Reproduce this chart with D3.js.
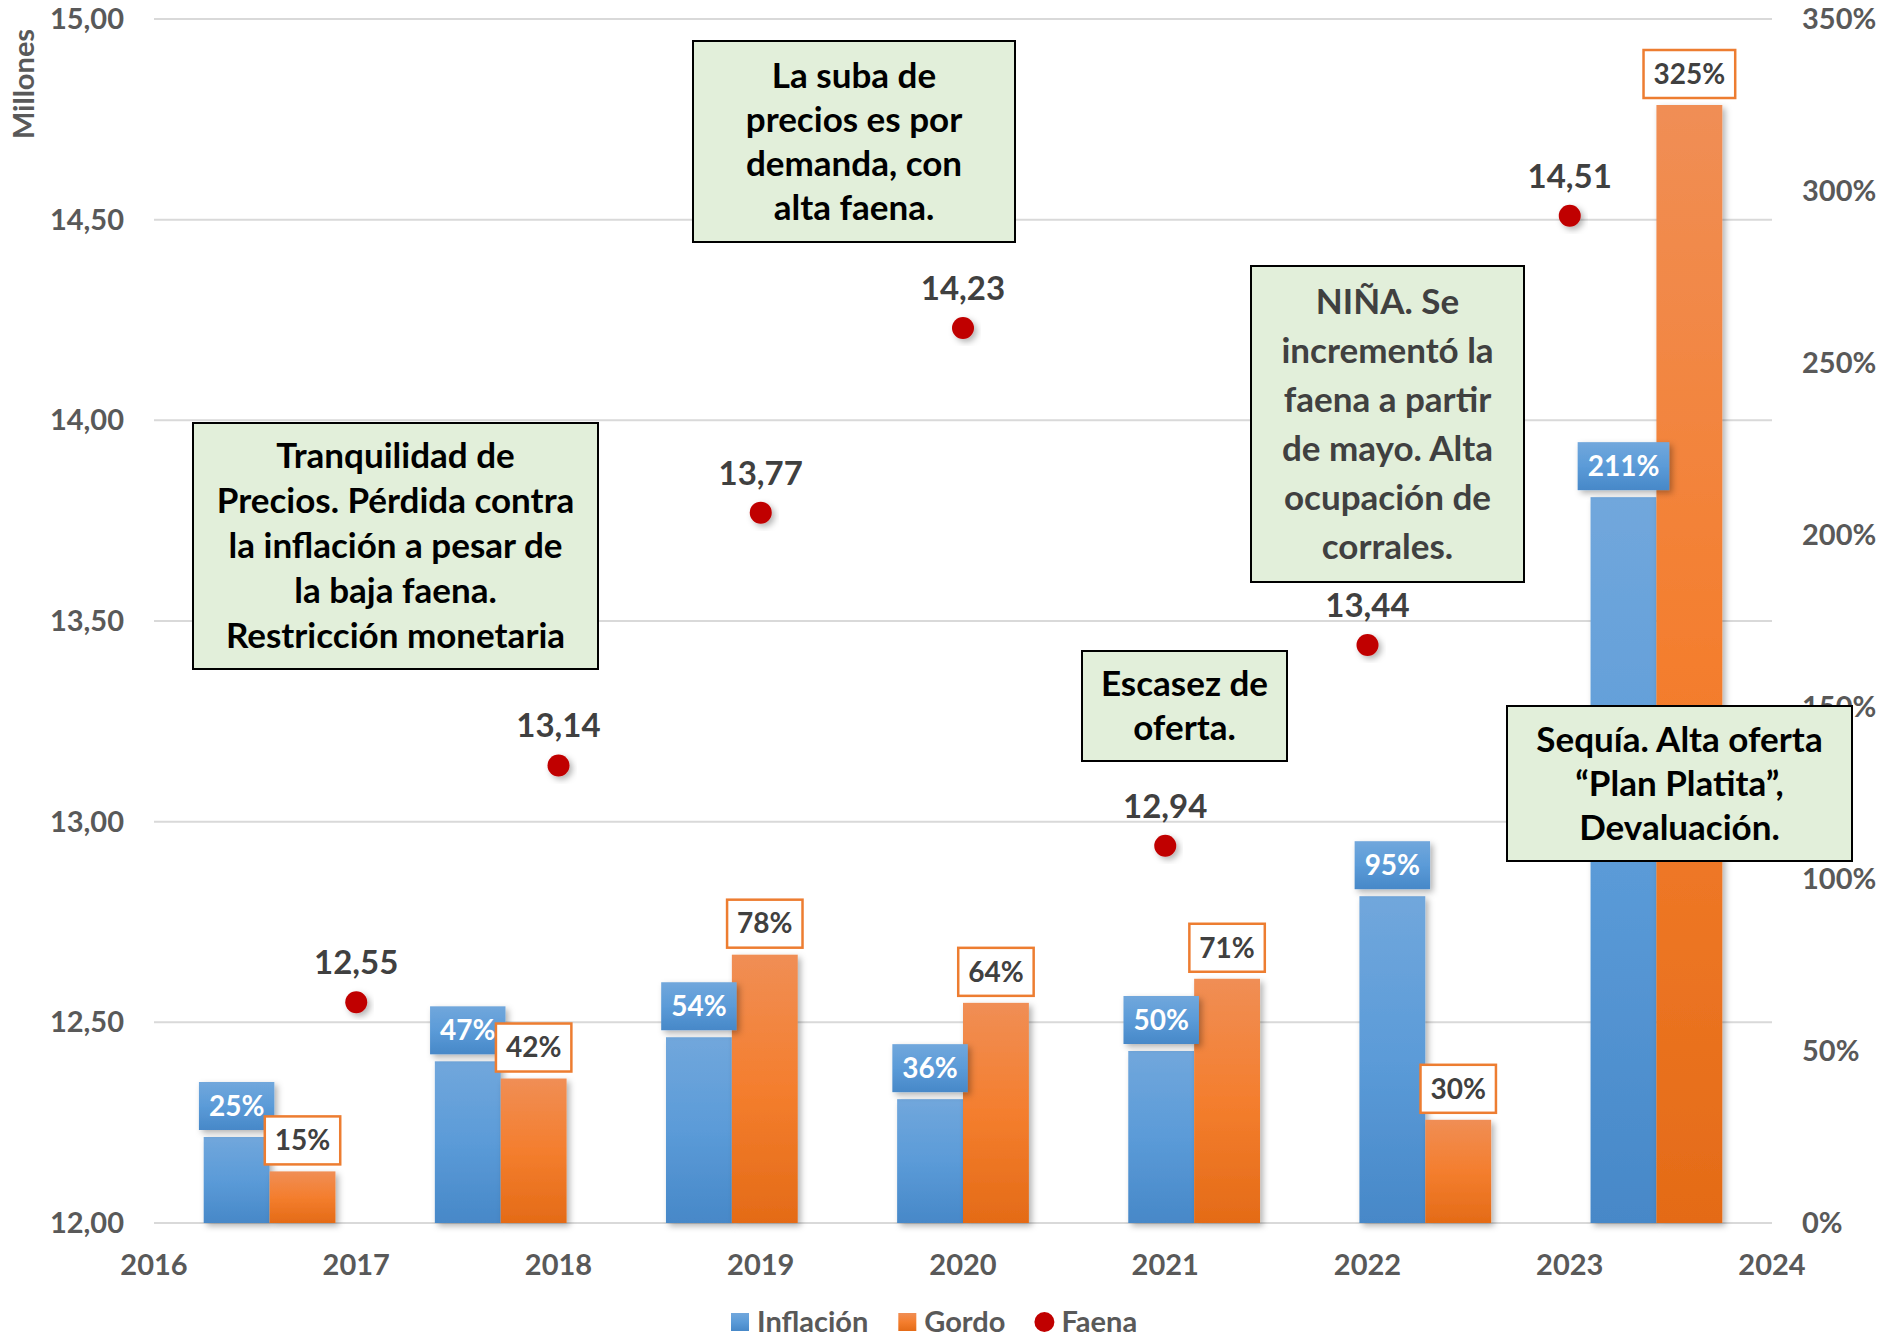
<!DOCTYPE html>
<html>
<head>
<meta charset="utf-8">
<script src="https://cdn.jsdelivr.net/npm/d3@7"></script>
<style>
  body { margin: 0; background: #fff; }
  svg text { font-family: Lato, "Open Sans", sans-serif; font-weight: 700; }
</style>
</head>
<body>
<div id="chart"></div>
<script>
// Data
var barYears = ["2017", "2018", "2019", "2020", "2021", "2022", "2023"];
var inflacion = [25, 47, 54, 36, 50, 95, 211];   // % (right axis)
var gordo = [15, 42, 78, 64, 71, 30, 325];       // % (right axis)
var faenaYears = [2017, 2018, 2019, 2020, 2021, 2022, 2023];
var faena = [12.55, 13.14, 13.77, 14.23, 12.94, 13.44, 14.51]; // millones (left axis)
var leftTicks = [12, 12.5, 13, 13.5, 14, 14.5, 15];
var rightTicks = [0, 50, 100, 150, 200, 250, 300, 350];
var xTicks = [2016, 2017, 2018, 2019, 2020, 2021, 2022, 2023, 2024];
var legendNames = ["Inflación", "Gordo", "Faena"];

// annotation boxes: lines of text
var notes = [
  { lines: ["Tranquilidad de", "Precios. Pérdida contra", "la inflación a pesar de", "la baja faena.", "Restricción monetaria"],
    box: [193, 423, 405, 246], lh: 45, color: "#000" },
  { lines: ["La suba de", "precios es por", "demanda, con", "alta faena."],
    box: [693, 41, 322, 201], lh: 44, color: "#000" },
  { lines: ["NIÑA. Se", "incrementó la", "faena a partir", "de mayo. Alta", "ocupación de", "corrales."],
    box: [1251, 266, 273, 316], lh: 49, color: "#404040" },
  { lines: ["Escasez de", "oferta."],
    box: [1082, 651, 205, 110], lh: 44, color: "#000" },
  { lines: ["Sequía. Alta oferta", "“Plan Platita”,", "Devaluación."],
    box: [1507, 706, 345, 155], lh: 44, color: "#000" }
];

var width = 1880, height = 1340;
var plotLeft = 154, plotRight = 1772, plotTop = 19, plotBottom = 1223;

var svg = d3.select("#chart").append("svg")
  .attr("width", width)
  .attr("height", height);

var defs = svg.append("defs");

function grad(id, stops) {
  var g = defs.append("linearGradient").attr("id", id)
    .attr("x1", 0).attr("y1", 0).attr("x2", 0).attr("y2", 1);
  stops.forEach(function(s) {
    g.append("stop").attr("offset", s[0]).attr("stop-color", s[1]);
  });
}
grad("gBlue", [[0, "#71A7DC"], [0.5, "#5B9BD8"], [1, "#4788C8"]]);
grad("gOrange", [[0, "#F08E55"], [0.5, "#F47E2E"], [1, "#E46B17"]]);

var shadow = defs.append("filter").attr("id", "shadow")
  .attr("x", "-30%").attr("y", "-30%").attr("width", "160%").attr("height", "160%");
shadow.append("feDropShadow")
  .attr("dx", 3).attr("dy", 3).attr("stdDeviation", 3)
  .attr("flood-color", "#000").attr("flood-opacity", 0.3);

// Scales
var yLeft = d3.scaleLinear().domain([12, 15]).range([plotBottom, plotTop]);
var yRight = d3.scaleLinear().domain([0, 350]).range([plotBottom, plotTop]);
var xYear = d3.scaleLinear().domain([2016, 2024]).range([plotLeft, plotRight]);
var xBand = d3.scaleBand().domain(barYears).range([plotLeft, plotRight])
  .paddingInner(0.43).paddingOuter(0.215);
var xSub = d3.scaleBand().domain(["inf", "gor"]).range([0, xBand.bandwidth()]);

// Gridlines (left axis)
svg.append("g").selectAll("line")
  .data(leftTicks)
  .enter().append("line")
  .attr("x1", plotLeft).attr("x2", plotRight)
  .attr("y1", function(d) { return yLeft(d); })
  .attr("y2", function(d) { return yLeft(d); })
  .attr("stroke", "#D9D9D9").attr("stroke-width", 2);

// Axis labels
var axisColor = "#595959";
svg.append("g").selectAll("text")
  .data(leftTicks)
  .enter().append("text")
  .attr("x", 124).attr("y", function(d) { return yLeft(d); })
  .attr("dy", "0.35em")
  .attr("text-anchor", "end")
  .attr("fill", axisColor).attr("font-size", 29)
  .text(function(d) { return d3.format(".2f")(d).replace(".", ","); });

svg.append("g").selectAll("text")
  .data(rightTicks)
  .enter().append("text")
  .attr("x", 1802).attr("y", function(d) { return yRight(d); })
  .attr("dy", "0.35em")
  .attr("fill", axisColor).attr("font-size", 29)
  .text(function(d) { return d + "%"; });

svg.append("g").selectAll("text")
  .data(xTicks)
  .enter().append("text")
  .attr("x", function(d) { return xYear(d); }).attr("y", 1275)
  .attr("text-anchor", "middle")
  .attr("fill", axisColor).attr("font-size", 29)
  .text(function(d) { return d; });

svg.append("text")
  .attr("transform", "translate(34,84) rotate(-90)")
  .attr("text-anchor", "middle")
  .attr("fill", axisColor).attr("font-size", 29)
  .text("Millones");

// Bars
var groups = svg.append("g").selectAll("g")
  .data(barYears)
  .enter().append("g")
  .attr("transform", function(d) { return "translate(" + xBand(d) + ",0)"; });

groups.append("rect")
  .attr("x", xSub("inf"))
  .attr("y", function(d, i) { return yRight(inflacion[i]); })
  .attr("width", xSub.bandwidth())
  .attr("height", function(d, i) { return plotBottom - yRight(inflacion[i]); })
  .attr("fill", "url(#gBlue)")
  .attr("filter", "url(#shadow)");

groups.append("rect")
  .attr("x", xSub("gor"))
  .attr("y", function(d, i) { return yRight(gordo[i]); })
  .attr("width", xSub.bandwidth())
  .attr("height", function(d, i) { return plotBottom - yRight(gordo[i]); })
  .attr("fill", "url(#gOrange)")
  .attr("filter", "url(#shadow)");

// Bar labels: blue filled box for Inflación, white box with orange border for Gordo
groups.each(function(d, i) {
  var g = d3.select(this);
  [["inf", inflacion, true], ["gor", gordo, false]].forEach(function(s) {
    var lab = g.append("g");
    var cx = xSub(s[0]) + xSub.bandwidth() / 2;
    var v = s[1][i];
    var t = lab.append("text")
      .attr("x", cx)
      .attr("y", yRight(v) - 7 - 24)
      .attr("dy", "0.35em")
      .attr("text-anchor", "middle")
      .attr("font-size", 28)
      .attr("fill", s[2] ? "#fff" : "#404040")
      .text(v + "%");
    var w = t.node().getComputedTextLength() + 20;
    lab.insert("rect", "text")
      .attr("x", cx - w / 2).attr("y", yRight(v) - 7 - 48)
      .attr("width", w).attr("height", 48)
      .attr("fill", s[2] ? "url(#gBlue)" : "#fff")
      .attr("stroke", s[2] ? "none" : "#ED7D31")
      .attr("stroke-width", s[2] ? 0 : 2.5)
      .attr("filter", s[2] ? "url(#shadow)" : null);
  });
});

// Faena dots
var dots = svg.append("g");
dots.selectAll("circle")
  .data(faena)
  .enter().append("circle")
  .attr("cx", function(d, i) { return xYear(faenaYears[i]); })
  .attr("cy", function(d) { return yLeft(d); })
  .attr("r", 11)
  .attr("fill", "#C00000")
  .attr("filter", "url(#shadow)");
dots.selectAll("text")
  .data(faena)
  .enter().append("text")
  .attr("x", function(d, i) { return xYear(faenaYears[i]); })
  .attr("y", function(d) { return yLeft(d) - 28; })
  .attr("text-anchor", "middle")
  .attr("font-size", 33)
  .attr("fill", "#404040")
  .text(function(d) { return d3.format(".2f")(d).replace(".", ","); });

// Annotation boxes
var noteG = svg.append("g").selectAll("g")
  .data(notes)
  .enter().append("g");
noteG.append("rect")
  .attr("x", function(d) { return d.box[0]; })
  .attr("y", function(d) { return d.box[1]; })
  .attr("width", function(d) { return d.box[2]; })
  .attr("height", function(d) { return d.box[3]; })
  .attr("fill", "#E2EFDA")
  .attr("stroke", "#000").attr("stroke-width", 2);
noteG.each(function(d) {
  var g = d3.select(this);
  var cx = d.box[0] + d.box[2] / 2;
  var cy = d.box[1] + d.box[3] / 2;
  var y0 = cy - (d.lines.length - 1) * d.lh / 2;
  g.selectAll("text")
    .data(d.lines)
    .enter().append("text")
    .attr("x", cx)
    .attr("y", function(l, j) { return y0 + j * d.lh; })
    .attr("dy", "0.35em")
    .attr("text-anchor", "middle")
    .attr("font-size", 35)
    .attr("fill", d.color)
    .text(function(l) { return l; });
});

// Legend
var legend = svg.append("g").attr("transform", "translate(731,1322)");
var lx = 0;
legendNames.forEach(function(name, i) {
  var item = legend.append("g").attr("transform", "translate(" + lx + ",0)");
  if (i < 2) {
    item.append("rect")
      .attr("x", 0).attr("y", -9).attr("width", 18).attr("height", 18)
      .attr("fill", i == 0 ? "url(#gBlue)" : "url(#gOrange)");
  } else {
    item.append("circle")
      .attr("cx", 9).attr("cy", 0).attr("r", 10)
      .attr("fill", "#C00000");
  }
  var t = item.append("text")
    .attr("x", 26).attr("y", 0).attr("dy", "0.35em")
    .attr("font-size", 29).attr("fill", axisColor)
    .text(name);
  lx += 26 + t.node().getComputedTextLength() + 30;
});
</script>
</body>
</html>
